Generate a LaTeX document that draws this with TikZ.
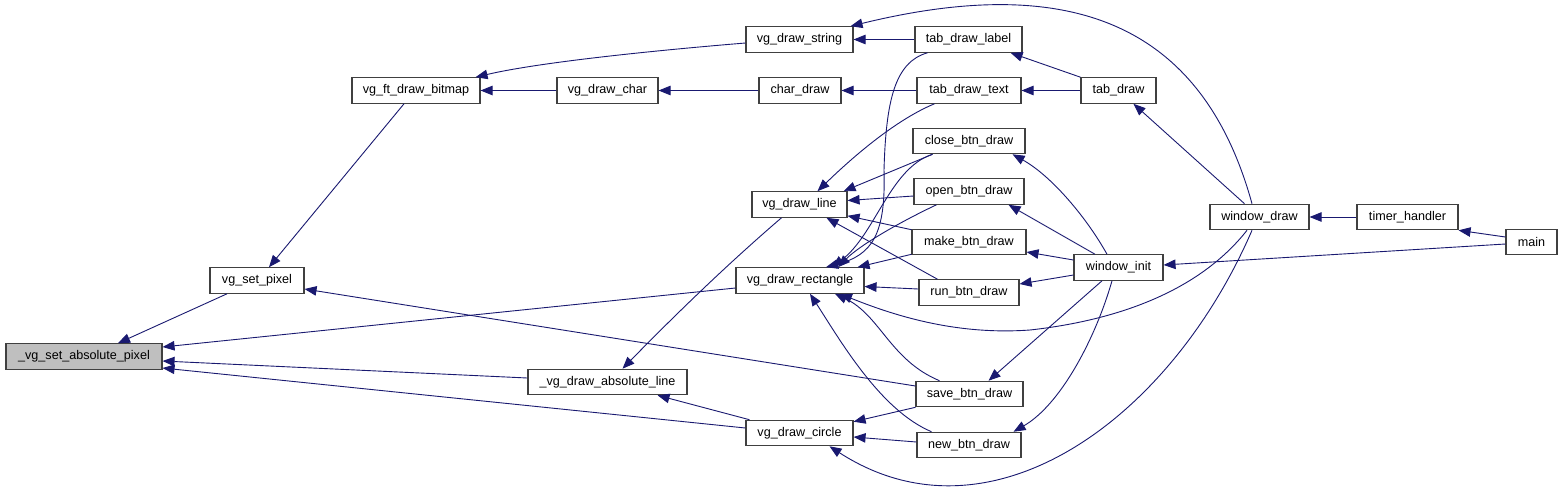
\documentclass[tikz,border=0pt]{standalone}
\usepackage{fontspec}
\setmainfont{Liberation Sans}
\definecolor{edgeblue}{HTML}{191970}
\definecolor{boxgray}{HTML}{404040}
\definecolor{rootgray}{HTML}{BFBFBF}
\usetikzlibrary{arrows.meta,calc}

\begin{document}
\begin{tikzpicture}[x=1pt,y=-1pt,
  fn/.style={draw=boxgray, fill=white, line width=1.1pt, minimum height=25.5pt, inner sep=0pt, font=\fontsize{12.6}{14}\selectfont},
  root/.style={fn, fill=rootgray},
  call/.style={edgeblue, line width=0.9pt, -{Triangle[length=12pt,width=9.5pt]}}]
\useasboundingbox[fill=white] (0,0) rectangle (1563,488);

\node[root, minimum width=156pt] (absPixel) at (84,356.5) {\_vg\_set\_absolute\_pixel};
\node[fn, minimum width=94pt] (setPixel) at (257,280.5) {vg\_set\_pixel};
\node[fn, minimum width=128pt] (ftBitmap) at (416,90.5) {vg\_ft\_draw\_bitmap};
\node[fn, minimum width=101pt] (drawChar) at (607.5,90.5) {vg\_draw\_char};
\node[fn, minimum width=159pt] (absLine) at (607.5,382) {\_vg\_draw\_absolute\_line};
\node[fn, minimum width=107pt] (drawString) at (799.5,39.5) {vg\_draw\_string};
\node[fn, minimum width=82pt] (charDraw) at (800,90.5) {char\_draw};
\node[fn, minimum width=95pt] (drawLine) at (799.5,204.5) {vg\_draw\_line};
\node[fn, minimum width=128pt] (drawRect) at (800,280.5) {vg\_draw\_rectangle};
\node[fn, minimum width=107pt] (drawCircle) at (799.5,433) {vg\_draw\_circle};
\node[fn, minimum width=107pt] (tabLabel) at (968.5,39.5) {tab\_draw\_label};
\node[fn, minimum width=104pt] (tabText) at (969,90.5) {tab\_draw\_text};
\node[fn, minimum width=112pt] (closeBtn) at (969,141) {close\_btn\_draw};
\node[fn, minimum width=110pt] (openBtn) at (969,191.5) {open\_btn\_draw};
\node[fn, minimum width=114pt] (makeBtn) at (969,242) {make\_btn\_draw};
\node[fn, minimum width=100pt] (runBtn) at (969,292.5) {run\_btn\_draw};
\node[fn, minimum width=107pt] (saveBtn) at (969.5,394) {save\_btn\_draw};
\node[fn, minimum width=104pt] (newBtn) at (969,445) {new\_btn\_draw};
\node[fn, minimum width=75pt] (tabDraw) at (1118.5,90.5) {tab\_draw};
\node[fn, minimum width=89pt] (windowInit) at (1118.5,267.5) {window\_init};
\node[fn, minimum width=99pt] (windowDraw) at (1259.5,217) {window\_draw};
\node[fn, minimum width=101pt] (timerHandler) at (1407.5,217) {timer\_handler};
\node[fn, minimum width=51pt] (mainFn) at (1531.5,242) {main};

\draw[call] ($(setPixel.south)+(-30,0)$) -- ($(absPixel.north)+(34,0)$);
\draw[call] ($(drawRect.west)+(0,7.5)$) -- ($(absPixel.east)+(0,-9.5)$);
\draw[call] ($(absLine.west)+(0,-4)$) -- ($(absPixel.east)+(0,4.5)$);
\draw[call] ($(drawCircle.west)+(0,-5)$) -- ($(absPixel.east)+(0,11.5)$);
\draw[call] ($(ftBitmap.south)+(-12,0)$) -- ($(setPixel.north)+(12,0)$);
\draw[call] ($(saveBtn.west)+(0,-8)$) -- ($(setPixel.east)+(0,8.5)$);
\draw[call] ($(drawString.west)+(0,3.5)$) .. controls (660,50) and (540,62) .. ($(ftBitmap.north east)+(-5,0)$);
\draw[call] (drawChar) -- (ftBitmap);
\draw[call] (charDraw) -- (drawChar);
\draw[call] (tabText) -- (charDraw);
\draw[call] (tabLabel) -- (drawString);
\draw[call] (tabDraw) -- (tabText);
\draw[call] (timerHandler) -- (windowDraw);
\draw[call] ($(windowDraw.north)+(-7.5,0)$) .. controls (1200,15) and (1060,-25) .. ($(drawString.north east)+(-3,0)$);
\draw[call] (tabDraw.north west) -- ($(tabLabel.south east)+(-12,0)$);
\draw[call] ($(windowDraw.north)+(-15,0)$) -- ($(tabDraw.south)+(15,0)$);
\draw[call] ($(tabText.south west)+(18,0)$) .. controls (900,118) and (860,150) .. ($(drawLine.north)+(18,0)$);
\draw[call] ($(tabLabel.south west)+(13,0)$) .. controls (895,62) and (886,100) .. (884,170)
  .. controls (886,235) and (872,255) .. ($(drawRect.north)+(26,0)$);
\draw[call] ($(closeBtn.south west)+(20,0)$) -- ($(drawLine.north east)+(-4,0)$);
\draw[call] ($(closeBtn.south west)+(20,0)$) .. controls (890,168) and (875,235) .. ($(drawRect.north)+(32,0)$);
\draw[call] ($(openBtn.west)+(0,4.5)$) -- ($(drawLine.east)+(0,-4)$);
\draw[call] ($(openBtn.south west)+(23,0)$) .. controls (900,222) and (860,245) .. ($(drawRect.north)+(38,0)$);
\draw[call] ($(makeBtn.north west)+(0,1)$) -- ($(drawLine.south east)+(0,-2)$);
\draw[call] ($(makeBtn.south west)+(0,-1)$) -- ($(drawRect.north east)+(-7,0)$);
\draw[call] ($(runBtn.north west)+(19,0)$) -- ($(drawLine.south)+(27,0)$);
\draw[call] ($(runBtn.west)+(0,-3.5)$) -- ($(drawRect.east)+(0,6)$);
\draw[call] ($(windowDraw.south)+(-12.5,0)$) .. controls (1200,290) and (1120,320) .. (1030,330)
  .. controls (960,335) and (900,318) .. ($(drawRect.south)+(40,0)$);
\draw[call] ($(saveBtn.north west)+(24,0)$) .. controls (890,360) and (880,315) .. ($(drawRect.south)+(35,0)$);
\draw[call] ($(newBtn.north west)+(15,0)$) .. controls (880,410) and (840,340) .. ($(drawRect.south)+(10,0)$);
\draw[call] ($(drawLine.south west)+(30,0)$) .. controls (730,262) and (680,310) .. ($(absLine.north)+(15,0)$);
\draw[call] ($(drawCircle.north west)+(4,0)$) -- ($(absLine.south)+(50,0)$);
\draw[call] (saveBtn.south west) -- ($(drawCircle.north east)+(0,2)$);
\draw[call] ($(newBtn.west)+(0,-3)$) -- ($(drawCircle.east)+(0,4)$);
\draw[call] ($(windowDraw.south)+(-7.5,0)$) .. controls (1170,420) and (990,550) .. ($(drawCircle.south)+(30,0)$);
\draw[call] ($(windowInit.north)+(-11.5,0)$) .. controls (1085,215) and (1050,175) .. ($(closeBtn.south east)+(-13,0)$);
\draw[call] ($(windowInit.north)+(-23.5,0)$) -- ($(openBtn.south east)+(-16,0)$);
\draw[call] ($(windowInit.west)+(0,-7.5)$) -- ($(makeBtn.east)+(0,10)$);
\draw[call] ($(windowInit.west)+(0,7.5)$) -- ($(runBtn.east)+(0,-8.5)$);
\draw[call] ($(windowInit.south)+(-16.5,0)$) -- ($(saveBtn.north east)+(-35,0)$);
\draw[call] ($(windowInit.south)+(-6.5,0)$) .. controls (1095,340) and (1060,405) .. ($(newBtn.north east)+(-8,0)$);
\draw[call] ($(mainFn.west)+(0,-5)$) -- (timerHandler.south east);
\draw[call] ($(mainFn.west)+(0,2)$) -- ($(windowInit.east)+(0,-2.5)$);

\end{tikzpicture}
\end{document}
